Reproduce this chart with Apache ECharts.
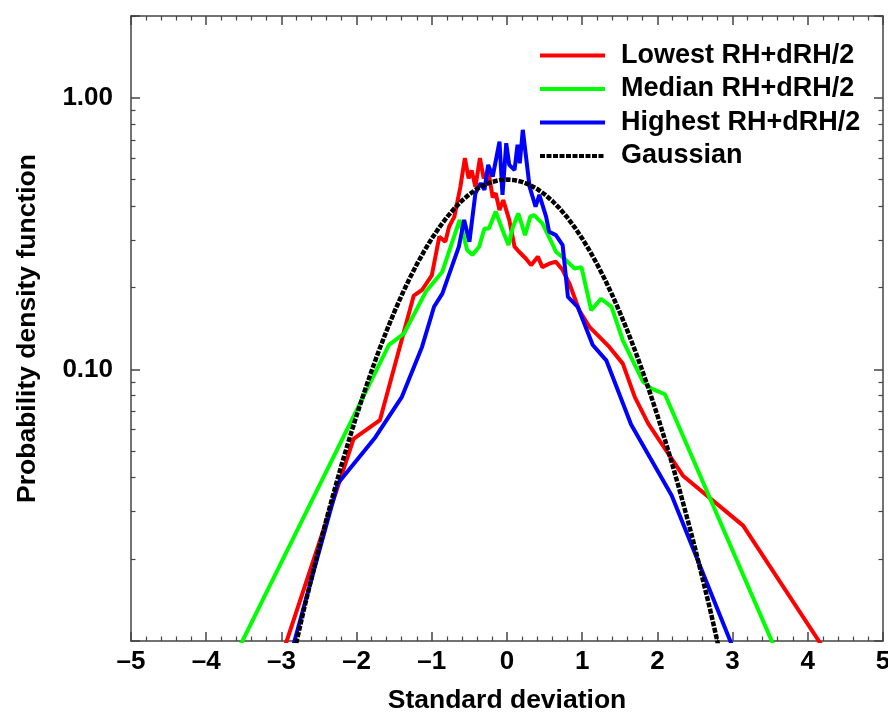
<!DOCTYPE html>
<html>
<head>
<meta charset="utf-8">
<script src="https://cdn.jsdelivr.net/npm/echarts@6/dist/echarts.min.js"></script>
<style>
  html, body { margin: 0; padding: 0; background: #fff; }
  #main { width: 888px; height: 712px; }
</style>
</head>
<body>
<div id="main"></div>
<script>
// values (x in standard deviations, y = pdf)
var lowX  = [-3.1, -2.04, -1.69, -1.24, -1.13, -1.0, -0.9, -0.82, -0.77, -0.7, -0.62, -0.56, -0.51, -0.47, -0.42, -0.36, -0.31, -0.25, -0.19, -0.15, -0.1, -0.05, 0.03, 0.1, 0.16, 0.25, 0.32, 0.41, 0.47, 0.56, 0.65, 0.74, 0.83, 0.96, 1.1, 1.36, 1.54, 1.7, 1.88, 2.34, 3.14, 4.2];
var lowY  = [0.0072, 0.0555, 0.065, 0.187, 0.196, 0.222, 0.308, 0.295, 0.335, 0.365, 0.47, 0.60, 0.505, 0.54, 0.47, 0.60, 0.505, 0.54, 0.43, 0.445, 0.386, 0.42, 0.355, 0.283, 0.271, 0.256, 0.242, 0.26, 0.238, 0.245, 0.249, 0.232, 0.207, 0.165, 0.143, 0.121, 0.105, 0.079, 0.063, 0.0406, 0.0266, 0.0095];

var medX  = [-3.6, -1.57, -1.37, -1.08, -0.86, -0.63, -0.53, -0.46, -0.37, -0.3, -0.24, -0.15, -0.06, 0.02, 0.08, 0.15, 0.24, 0.31, 0.36, 0.47, 0.59, 0.65, 0.76, 0.9, 0.99, 1.12, 1.25, 1.39, 1.54, 1.81, 1.92, 2.1, 3.6];
var medY  = [0.009, 0.123, 0.1355, 0.193, 0.229, 0.355, 0.275, 0.264, 0.283, 0.33, 0.33, 0.381, 0.326, 0.287, 0.335, 0.375, 0.312, 0.365, 0.37, 0.345, 0.295, 0.271, 0.256, 0.235, 0.238, 0.165, 0.182, 0.17, 0.128, 0.09, 0.085, 0.081, 0.0089];

var highX = [-2.95, -2.25, -1.75, -1.4, -1.13, -0.97, -0.86, -0.75, -0.64, -0.57, -0.5, -0.42, -0.35, -0.3, -0.25, -0.19, -0.1, -0.06, -0.01, 0.03, 0.1, 0.14, 0.17, 0.21, 0.3, 0.38, 0.43, 0.52, 0.56, 0.65, 0.74, 0.81, 0.94, 1.14, 1.32, 1.65, 2.19, 3.05];
var highY = [0.0075, 0.038, 0.0563, 0.079, 0.121, 0.17, 0.19, 0.232, 0.283, 0.355, 0.295, 0.445, 0.485, 0.458, 0.566, 0.513, 0.69, 0.439, 0.68, 0.566, 0.542, 0.671, 0.574, 0.762, 0.471, 0.397, 0.439, 0.365, 0.321, 0.312, 0.287, 0.185, 0.17, 0.123, 0.108, 0.0627, 0.0343, 0.0088];

var gaussX = [-2.9, -2.8, -2.7, -2.6, -2.5, -2.4, -2.3, -2.2, -2.1, -2.0, -1.9, -1.8, -1.7, -1.6, -1.5, -1.4, -1.3, -1.2, -1.1, -1.0, -0.9, -0.8, -0.7, -0.6, -0.5, -0.4, -0.3, -0.2, -0.1, 0.0,
              0.1, 0.2, 0.3, 0.4, 0.5, 0.6, 0.7, 0.8, 0.9, 1.0, 1.1, 1.2, 1.3, 1.4, 1.5, 1.6, 1.7, 1.8, 1.9, 2.0, 2.1, 2.2, 2.3, 2.4, 2.5, 2.6, 2.7, 2.8, 2.9];
var gaussY = [0.0075, 0.0099, 0.0131, 0.017, 0.022, 0.0281, 0.0355, 0.0445, 0.0551, 0.0677, 0.0822, 0.0989, 0.1179, 0.139, 0.1623, 0.1877, 0.2148, 0.2434, 0.273, 0.3033, 0.3335, 0.3631, 0.3913, 0.4176, 0.4412, 0.4616, 0.478, 0.4901, 0.4975, 0.5,
              0.4975, 0.4901, 0.478, 0.4616, 0.4412, 0.4176, 0.3913, 0.3631, 0.3335, 0.3033, 0.273, 0.2434, 0.2148, 0.1877, 0.1623, 0.139, 0.1179, 0.0989, 0.0822, 0.0677, 0.0551, 0.0445, 0.0355, 0.0281, 0.022, 0.017, 0.0131, 0.0099, 0.0075];

var seriesNames = ['Lowest RH+dRH/2', 'Median RH+dRH/2', 'Highest RH+dRH/2', 'Gaussian'];
var yMin = 0.01, yMax = 2;
var yMinorTicks = [0.02, 0.03, 0.04, 0.05, 0.06, 0.07, 0.08, 0.09, 0.2, 0.3, 0.4, 0.5, 0.6, 0.7, 0.8, 0.9, 2];

function pairs(xs, ys) {
    return xs.map(function (x, i) { return [x, ys[i]]; });
}

var FONT = "'Liberation Sans', Arial, sans-serif";
var axisCol = '#444';

function xAxisDef(pos, labels) {
    return {
        type: 'value', position: pos, min: -5, max: 5, interval: 1,
        axisLine: { onZero: false, lineStyle: { color: axisCol, width: 1.5 } },
        axisTick: { inside: true, length: 9, lineStyle: { color: axisCol, width: 1.5 } },
        minorTick: { show: true, splitNumber: 5, length: 4.5, lineStyle: { color: axisCol, width: 1.2 } },
        splitLine: { show: false },
        axisLabel: labels ? {
            show: true, margin: 8, color: '#000', fontFamily: FONT, fontWeight: 'bold', fontSize: 26,
            formatter: function (v) { return v < 0 ? '\u2013' + (-v) : String(v); }
        } : { show: false }
    };
}

function logAxisDef(pos, labels) {
    return {
        type: 'log', logBase: 10, position: pos, min: yMin, max: yMax,
        axisLine: { show: true, onZero: false, lineStyle: { color: axisCol, width: 1.5 } },
        axisTick: { inside: true, length: 9, lineStyle: { color: axisCol, width: 1.5 } },
        splitLine: { show: false },
        axisLabel: labels ? {
            show: true, margin: 18, color: '#000', fontFamily: FONT, fontWeight: 'bold', fontSize: 26,
            formatter: function (v) { return (v > 0.05 && v < 1.5) ? v.toFixed(2) : ''; }
        } : { show: false }
    };
}

// minor ticks of the log axis (2..9 per decade), drawn on a plain axis in log units
function minorAxisDef(pos) {
    return {
        type: 'value', position: pos, min: Math.log10(yMin), max: Math.log10(yMax),
        axisLine: { show: false, onZero: false },
        axisTick: { show: true, inside: true, length: 4.5, lineStyle: { color: axisCol, width: 1.2 },
                    customValues: yMinorTicks.map(function (v) { return Math.log10(v); }) },
        axisLabel: { show: false },
        splitLine: { show: false }
    };
}

var yLeft = logAxisDef('left', true);
yLeft.name = 'Probability density function';
yLeft.nameLocation = 'middle';
yLeft.nameGap = 90;
yLeft.nameTextStyle = { color: '#000', fontFamily: FONT, fontWeight: 'bold', fontSize: 26.5 };

var xBottom = xAxisDef('bottom', true);
xBottom.name = 'Standard deviation';
xBottom.nameLocation = 'middle';
xBottom.nameGap = 46;
xBottom.nameTextStyle = { color: '#000', fontFamily: FONT, fontWeight: 'bold', fontSize: 26.5 };

var option = {
    backgroundColor: '#fff',
    animation: false,
    grid: { left: 131, right: 5, top: 16, bottom: 71, outerBoundsMode: 'none', containLabel: false },
    legend: {
        left: 538, top: 42, orient: 'vertical', padding: 0,
        itemWidth: 65, itemHeight: 14, itemGap: 6.5,
        data: seriesNames,
        itemStyle: { opacity: 0 },
        lineStyle: { width: 4 },
        textStyle: { color: '#000', fontFamily: FONT, fontWeight: 'bold', fontSize: 27, padding: [0, 0, 0, 11] }
    },
    xAxis: [xBottom, xAxisDef('top', false)],
    yAxis: [yLeft, logAxisDef('right', false), minorAxisDef('left'), minorAxisDef('right')],
    series: [
        { name: seriesNames[0], type: 'line', symbol: 'none', data: pairs(lowX, lowY),
          lineStyle: { color: '#ff0000', width: 4 }, itemStyle: { color: '#ff0000' } },
        { name: seriesNames[1], type: 'line', symbol: 'none', data: pairs(medX, medY),
          lineStyle: { color: '#00ff00', width: 4 }, itemStyle: { color: '#00ff00' } },
        { name: seriesNames[2], type: 'line', symbol: 'none', data: pairs(highX, highY),
          lineStyle: { color: '#0000ff', width: 4 }, itemStyle: { color: '#0000ff' } },
        { name: seriesNames[3], type: 'line', symbol: 'none', data: pairs(gaussX, gaussY),
          lineStyle: { color: '#000', width: 4.5, type: [5, 1.5] }, itemStyle: { color: '#000' } }
    ]
};

var myChart = echarts.init(document.getElementById('main'));
myChart.setOption(option);
</script>
</body>
</html>
